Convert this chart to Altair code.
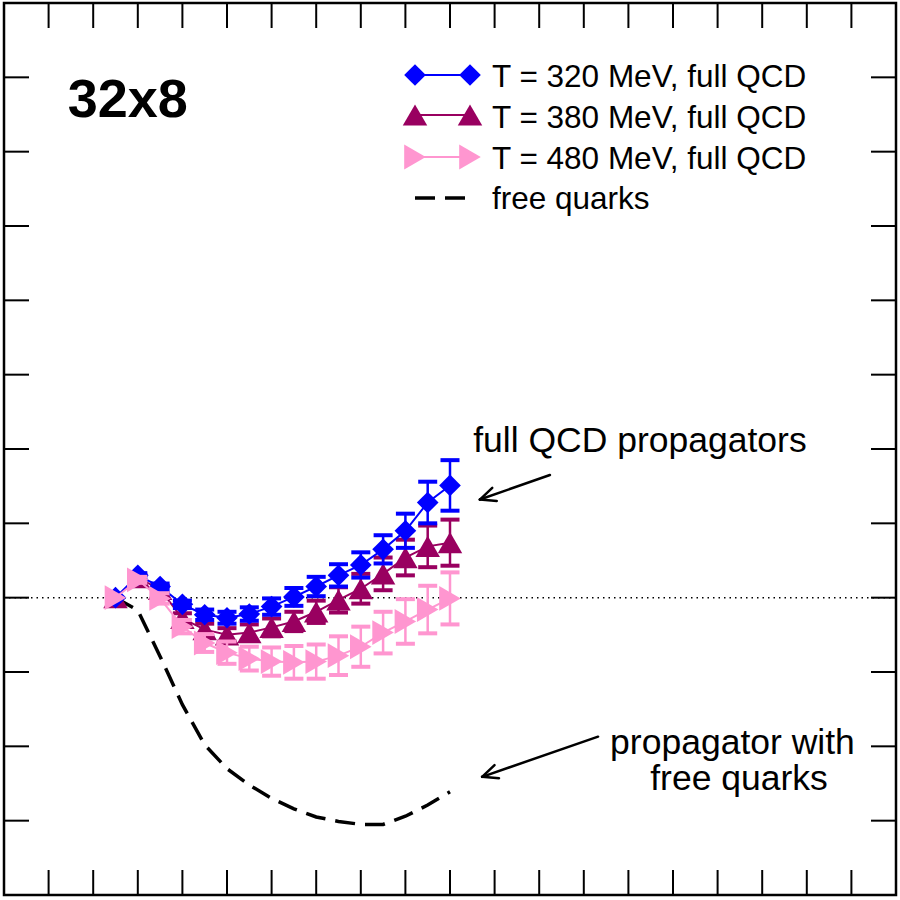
import math
import altair as alt
import pandas as pd

# Euclidean time in units of 1/T on the 32x8 lattice
tau = [0.25, 0.30, 0.35, 0.40, 0.45, 0.50, 0.55, 0.60,
       0.65, 0.70, 0.75, 0.80, 0.85, 0.90, 0.95, 1.00]

# Normalised propagator difference, full QCD
t320 = [0.000, 0.030, 0.015, -0.009, -0.023, -0.027, -0.022, -0.012,
        0.001, 0.015, 0.030, 0.044, 0.065, 0.090, 0.128, 0.151]
t320_err = [0.000, 0.003, 0.004, 0.005, 0.007, 0.008, 0.009, 0.011,
            0.012, 0.013, 0.015, 0.017, 0.019, 0.023, 0.028, 0.034]

t380 = [0.000, 0.027, 0.011, -0.028, -0.043, -0.050, -0.047, -0.040,
        -0.032, -0.019, -0.003, 0.012, 0.032, 0.054, 0.069, 0.074]
t380_err = [0.000, 0.004, 0.005, 0.007, 0.008, 0.009, 0.011, 0.012,
            0.013, 0.015, 0.017, 0.020, 0.022, 0.024, 0.028, 0.031]

t480 = [0.000, 0.024, -0.001, -0.039, -0.061, -0.074, -0.082, -0.086,
        -0.087, -0.086, -0.078, -0.066, -0.047, -0.032, -0.016, -0.001]
t480_err = [0.000, 0.004, 0.007, 0.009, 0.012, 0.015, 0.016, 0.019,
            0.022, 0.023, 0.026, 0.027, 0.028, 0.030, 0.032, 0.035]

# Same quantity for free quarks
free = [0.000, -0.017, -0.079, -0.144, -0.198, -0.230, -0.252, -0.270,
        -0.284, -0.295, -0.301, -0.305, -0.305, -0.294, -0.279, -0.261]

x_ticks = [round(0.1 * k, 1) for k in range(1, 20)]
y_ticks = [round(0.1 * k, 1) for k in range(-3, 8)]

X_DOMAIN = [0.0, 2.0]
Y_DOMAIN = [-0.4, 0.8]
W = H = 892
PX_X = W / (X_DOMAIN[1] - X_DOMAIN[0])
PX_Y = H / (Y_DOMAIN[1] - Y_DOMAIN[0])

FONT = "Liberation Sans"
xs = alt.Scale(domain=X_DOMAIN, nice=False, zero=False)
ys = alt.Scale(domain=Y_DOMAIN, nice=False, zero=False)

BLUE, CRIMSON, PINK = "#0000ff", "#990060", "#ff96d0"
SHAPES = {BLUE: ("diamond", 470), CRIMSON: ("triangle-up", 600), PINK: ("triangle-right", 620)}

series = [
    (t380, t380_err, CRIMSON),
    (t320, t320_err, BLUE),
    (t480, t480_err, PINK),
]

layers = []

# dotted zero line
zero_df = pd.DataFrame({"y": [0.0]})
layers.append(
    alt.Chart(zero_df).mark_rule(color="black", strokeWidth=1.5, strokeDash=[1.5, 4])
    .encode(y=alt.Y("y:Q", scale=ys, axis=None))
)

# free-quark curve
free_df = pd.DataFrame({"tau": tau, "v": free})
layers.append(
    alt.Chart(free_df).mark_line(color="black", strokeWidth=3.5, strokeDash=[20, 10])
    .encode(x=alt.X("tau:Q", scale=xs, axis=None), y=alt.Y("v:Q", scale=ys, axis=None))
)

for vals, errs, color in series:
    shape, size = SHAPES[color]
    df = pd.DataFrame({
        "tau": tau, "v": vals,
        "lo": [v - e for v, e in zip(vals, errs)],
        "hi": [v + e for v, e in zip(vals, errs)],
        "err": errs,
    })
    base = alt.Chart(df)
    x = alt.X("tau:Q", scale=xs, axis=None)
    layers.append(base.mark_line(color=color, strokeWidth=2)
                  .encode(x=x, y=alt.Y("v:Q", scale=ys, axis=None)))
    layers.append(base.mark_rule(color=color, strokeWidth=2.5)
                  .encode(x=x, y=alt.Y("lo:Q", scale=ys, axis=None), y2="hi:Q"))
    for end in ("lo", "hi"):
        layers.append(base.transform_filter("datum.err > 0")
                      .mark_tick(color=color, orient="horizontal", size=19, thickness=4, opacity=1)
                      .encode(x=x, y=alt.Y(f"{end}:Q", scale=ys, axis=None)))
    layers.append(base.mark_point(shape=shape, filled=True, size=size, color=color, opacity=1)
                  .encode(x=x, y=alt.Y("v:Q", scale=ys, axis=None)))

# frame ticks on all four sides, pointing inwards
TICK = 25
xt = pd.DataFrame({"t": x_ticks})
yt = pd.DataFrame({"t": y_ticks})
for y0, y1 in ((0, TICK), (H - TICK, H)):
    layers.append(alt.Chart(xt).mark_rule(color="black", strokeWidth=2)
                  .encode(x=alt.X("t:Q", scale=xs, axis=None), y=alt.value(y0), y2=alt.value(y1)))
for x0, x1 in ((0, TICK), (W - TICK, W)):
    layers.append(alt.Chart(yt).mark_rule(color="black", strokeWidth=2)
                  .encode(y=alt.Y("t:Q", scale=ys, axis=None), x=alt.value(x0), x2=alt.value(x1)))

# legend
one = pd.DataFrame({"_": [0]})
legend_rows = [
    ("T = 320 MeV, full QCD", BLUE, 72, 84),
    ("T = 380 MeV, full QCD", CRIMSON, 112, 125),
    ("T = 480 MeV, full QCD", PINK, 154, 166),
]
LX0, LX1, LTX = 411, 466, 488
for label, color, ym, yb in legend_rows:
    shape, size = SHAPES[color]
    layers.append(alt.Chart(one).mark_rule(color=color, strokeWidth=2)
                  .encode(x=alt.value(LX0), x2=alt.value(LX1), y=alt.value(ym)))
    for xp in (LX0, LX1):
        layers.append(alt.Chart(one).mark_point(shape=shape, filled=True, size=size,
                                                color=color, opacity=1)
                      .encode(x=alt.value(xp), y=alt.value(ym)))
    layers.append(alt.Chart(one).mark_text(align="left", baseline="alphabetic",
                                           fontSize=31.5, font=FONT, color="black")
                  .encode(x=alt.value(LTX), y=alt.value(yb), text=alt.value(label)))
layers.append(alt.Chart(one).mark_rule(color="black", strokeWidth=3.5, strokeDash=[20, 10])
              .encode(x=alt.value(LX0), x2=alt.value(LX0 + 52), y=alt.value(195)))
layers.append(alt.Chart(one).mark_text(align="left", baseline="alphabetic",
                                       fontSize=31.5, font=FONT, color="black")
              .encode(x=alt.value(LTX), y=alt.value(206), text=alt.value("free quarks")))

# annotations
labels = pd.DataFrame({
    "x": [0.143, 1.052, 1.359, 1.449],
    "y": [0.646, 0.196, -0.210, -0.259],
    "text": ["32x8", "full QCD propagators", "propagator with", "free quarks"],
    "size": [54, 35.5, 35.5, 35.5],
    "weight": ["bold", "normal", "normal", "normal"],
})
for _, row in labels.iterrows():
    layers.append(alt.Chart(pd.DataFrame([row])).mark_text(
        align="left", baseline="alphabetic", fontSize=float(row["size"]),
        fontWeight=row["weight"], font=FONT, color="black")
        .encode(x=alt.X("x:Q", scale=xs, axis=None), y=alt.Y("y:Q", scale=ys, axis=None),
                text="text:N"))


def arrow(x0, y0, x1, y1, head=17, spread=24):
    """Shaft plus an open V head, shaped in pixel space."""
    ang = math.atan2((y1 - y0) * PX_Y, (x1 - x0) * PX_X)
    segs = [(x0, y0, x1, y1)]
    for s in (1, -1):
        a = ang + math.pi + s * math.radians(spread)
        segs.append((x1, y1, x1 + head * math.cos(a) / PX_X, y1 + head * math.sin(a) / PX_Y))
    return segs


arrows = [(1.224, 0.165, 1.067, 0.132), (1.332, -0.187, 1.072, -0.241)]
segs = [s for a in arrows for s in arrow(*a)]
seg_df = pd.DataFrame(segs, columns=["x", "y", "x2", "y2"])
layers.append(alt.Chart(seg_df).mark_rule(color="black", strokeWidth=2.5, strokeCap="round")
              .encode(x=alt.X("x:Q", scale=xs, axis=None), y=alt.Y("y:Q", scale=ys, axis=None),
                      x2="x2:Q", y2="y2:Q"))

chart = alt.layer(*layers).properties(
    width=W, height=H,
    padding={"left": 4, "top": 3, "right": 4, "bottom": 5},
    autosize=alt.AutoSizeParams(type="none"),
    background="white",
).configure_view(stroke="black", strokeWidth=2.5)

chart.save("out.html", embed_options={"renderer": "svg", "actions": False})
